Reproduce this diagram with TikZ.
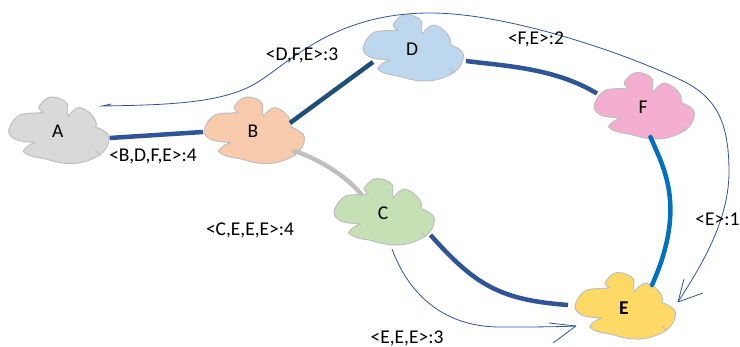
\documentclass[tikz,border=0pt]{standalone}
\usepackage{fontspec}
\setmainfont{Carlito}
\usetikzlibrary{calc}
\definecolor{cA}{HTML}{D9D9D9}
\definecolor{cB}{HTML}{F8CBAD}
\definecolor{cC}{HTML}{C5E0B4}
\definecolor{cD}{HTML}{BDD7EE}
\definecolor{cE}{HTML}{FFD966}
\definecolor{cF}{HTML}{F4AFD0}
\definecolor{navy}{HTML}{2F5597}
\definecolor{teal}{HTML}{1F4E79}
\definecolor{bright}{HTML}{0070C0}
\definecolor{rim}{HTML}{BFBFBF}
\tikzset{
  x=1pt,y=-1pt,
  leafname/.style={inner sep=0pt,font=\fontsize{19.5}{21}\selectfont},
  lab/.style={inner sep=0pt,font=\fontsize{19.5}{21}\selectfont},
  link/.style={line width=4.5pt,line cap=butt},
  thin line/.style={draw=navy,line width=0.8pt},
  leafpath/.style={draw=rim,line width=1pt,line join=round},
}
\newcommand{\leafshape}[3]{%
  \begin{scope}[shift={(#1,#2)}]
    \path[leafpath,fill=#3]
      (-14.5,-19) .. controls (-18,-21) and (-20,-24) .. (-18,-26)
      .. controls (-15,-30) and (-11,-34.5) .. (-6,-34.5)
      .. controls (0,-34.5) and (7,-32) .. (10,-27)
      .. controls (9.5,-23) and (9,-18) .. (10.5,-15)
      .. controls (13,-19) and (18,-24) .. (22,-24)
      .. controls (28,-23) and (35,-17) .. (37.5,-11.5)
      .. controls (39,-9) and (39,-6) .. (38,-4.5)
      .. controls (44,-2) and (51,1) .. (51.5,6)
      .. controls (52,13) and (47,20) .. (42,23.5)
      .. controls (33,29) and (22,32.5) .. (12,32)
      .. controls (2,32) and (-6,29) .. (-14,27)
      .. controls (-22,26) and (-31,24) .. (-34.5,20)
      .. controls (-33,16) and (-28,13) .. (-22.5,11)
      .. controls (-30,10.5) and (-38,10) .. (-42,8)
      .. controls (-46,6) and (-49.5,3) .. (-49,-1)
      .. controls (-47,-9) and (-42,-15) .. (-37,-17)
      .. controls (-30,-19) and (-22,-18) .. (-14.5,-19) -- cycle;
    \draw[rim,line width=1pt] (38,19) -- (43,24);
  \end{scope}%
}
\begin{document}
\begin{tikzpicture}
\useasboundingbox (0,0) rectangle (740,347);
\leafshape{57.7}{131.5}{cA}
\leafshape{253}{131.5}{cB}
\leafshape{412}{49}{cD}
\leafshape{643}{107}{cF}
\leafshape{383}{213}{cC}
\leafshape{624}{307}{cE}
\node[leafname] (A) at (57.7,131.5) {A};
\node[leafname] (B) at (253,131.5) {B};
\node[leafname] (C) at (383,213) {C};
\node[leafname] (D) at (412,49) {D};
\node[leafname,font=\fontsize{19.5}{21}\selectfont\bfseries] (E) at (624,308) {E};
\node[leafname] (F) at (643,107) {F};

\draw[link,navy] ($(A)+(52,6.5)$) -- ($(B)+(-50,0.5)$);
\draw[link,teal] ($(B)+(37,-8.5)$) -- ($(D)+(-39,13)$);
\draw[link,navy] ($(D)+(54,12)$) .. controls (505,66) and (555,68) .. ($(F)+(-46,-13.5)$);
\draw[link,rim,line cap=round] ($(B)+(42,19.5)$) .. controls (320,160) and (345,175) .. ($(C)+(-22,-19)$);
\draw[link,navy] ($(C)+(47.5,22)$) .. controls (475,285) and (500,300) .. ($(E)+(-56,-3)$);
\draw[link,bright,line cap=round] ($(F)+(7.5,30)$) .. controls (662,165) and (688,205) .. ($(E)+(28,-23)$);

\coordinate (ta) at ($(A)+(44.5,-25.5)$);
\coordinate (te) at ($(E)+(54,-6)$);
\draw[thin line] (ta) -- ++(9,-2) -- ++(-9,2) .. controls (170,105) and (225,103) .. (258,82)
  .. controls (290,62) and (335,13) .. (430,13)
  .. controls (510,13) and (630,55) .. (685,82)
  .. controls (715,98) and (729,120) .. (729,172)
  .. controls (729,225) and (695,275) .. (te);
\draw[thin line] (te) -- ++(6,-23) (te) -- ++(25,-9);

\coordinate (tc) at ($(C)+(9,36)$);
\coordinate (tf) at ($(E)+(-48,18)$);
\draw[thin line] (tc) .. controls (407,290) and (440,327) .. (500,327)
  .. controls (530,327) and (555,327) .. (tf);
\draw[thin line] (tf) -- ++(-27,-3) (tf) -- ++(-23,17);

\node[lab] (l1) at (302,55) {<D,F,E>:3};
\node[lab] (l2) at (153,156) {<B,D,F,E>:4};
\node[lab] (l3) at (536,39) {<F,E>:2};
\node[lab] (l4) at (250,230) {<C,E,E,E>:4};
\node[lab] (l5) at (407,338) {<E,E,E>:3};
\node[lab] (l6) at (717.5,219) {<E>:1};
\end{tikzpicture}
\end{document}
